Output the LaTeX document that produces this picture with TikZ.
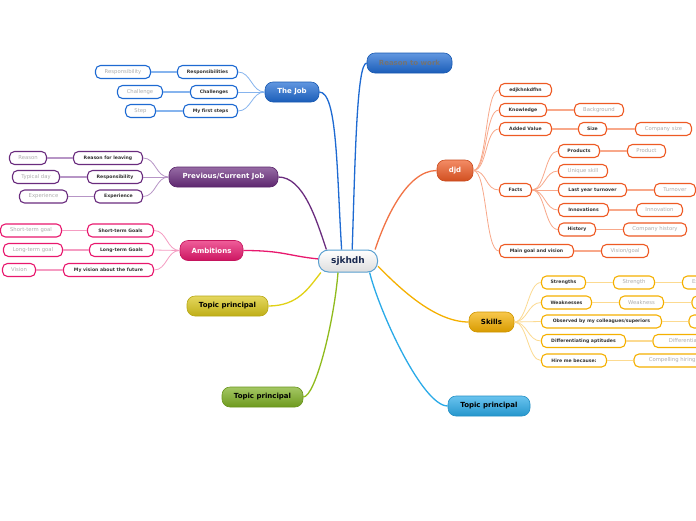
\documentclass[tikz,border=0pt]{standalone}
\usepackage{fontspec}
\setmainfont{DejaVu Sans}
\definecolor{jobB}{HTML}{1E6AD2}
\definecolor{jobL}{HTML}{86B4EE}
\definecolor{purB}{HTML}{6A2C7E}
\definecolor{purL}{HTML}{B795C6}
\definecolor{pinkB}{HTML}{E8186E}
\definecolor{pinkL}{HTML}{F59CC2}
\definecolor{orB}{HTML}{EE5A24}
\definecolor{orL}{HTML}{F8A88A}
\definecolor{skB}{HTML}{F5B000}
\definecolor{skL}{HTML}{FCDA90}
\definecolor{yelB}{HTML}{D9C61A}
\definecolor{grnB}{HTML}{7DAF22}
\definecolor{cyaB}{HTML}{2AAAE8}
\definecolor{cenB}{HTML}{5AA0D0}
\definecolor{navy}{HTML}{1A2A50}
\tikzset{
  mainbox/.style={rounded corners=8pt, minimum height=20pt, inner sep=0pt,
    font=\fontsize{7}{8}\selectfont\bfseries, text=white,
    top color=#1!70!white, bottom color=#1!88!black, draw=#1!85!black, line width=0.6pt},
  subbox/.style={draw=#1, line width=1.1pt, rounded corners=5pt, fill=white,
    minimum height=13pt, inner sep=0pt, font=\fontsize{4.6}{5.5}\selectfont\bfseries, text=black!80},
  leafbox/.style={subbox=#1, font=\fontsize{5.3}{6}\selectfont, text=black!32},
  mainedge/.style={line width=1.3pt, draw=#1},
  subedge/.style={line width=0.8pt, draw=#1},
  leafedge/.style={line width=1.6pt, draw=#1},
}
\begin{document}
\begin{tikzpicture}[x=1pt,y=-1pt]
\path[use as bounding box] (0,0) rectangle (696,520);
\clip (0,0) rectangle (696,520);
\fill[white] (0,0) rectangle (696,520);

% central
\node[draw=cenB, line width=1pt, rounded corners=10pt, top color=white, bottom color=black!13,
  minimum width=59pt, minimum height=22pt, inner sep=0pt,
  font=\fontsize{9}{10}\selectfont\bfseries, text=navy] (c) at (348,261) {sjkhdh};

% main topics
\node[mainbox=jobB, minimum width=54pt] (job) at (292,92) {The Job};
\node[mainbox=jobB, minimum width=85pt, text=black!55] (rw) at (409.5,63) {Reason to work};
\node[mainbox=orB, minimum width=36pt, minimum height=21pt] (djd) at (455,170.5) {djd};
\node[mainbox=purB, minimum width=109pt] (prev) at (223.5,177) {Previous/Current Job};
\node[mainbox=pinkB, minimum width=63pt] (amb) at (211.5,250.5) {Ambitions};
\node[mainbox=yelB, minimum width=81pt, text=black] (yel) at (227.5,306) {Topic principal};
\node[mainbox=grnB, minimum width=81pt, text=black] (grn) at (262.5,397) {Topic principal};
\node[mainbox=cyaB, minimum width=82pt, text=black] (cya) at (489,406) {Topic principal};
\node[mainbox=skB, minimum width=45pt, text=black] (sk) at (491.5,322) {Skills};

% central edges
\draw[mainedge=jobB] (job.east) .. controls +(18,0) and +(-5,-80) .. (c.119);
\draw[mainedge=jobB] (rw.west) .. controls +(-10,0) and +(3,-90) .. (c.70);
\draw[mainedge=orB!85] (djd.west) .. controls +(-30,0) and +(10,-30) .. (c.23);
\draw[mainedge=purB] (prev.east) .. controls +(25,0) and +(-10,-30) .. (c.152);
\draw[mainedge=pinkB] (amb.east) .. controls +(40,0) and +(-30,-3) .. (c.176);
\draw[mainedge=yelB!80!yellow] (yel.east) .. controls +(30,0) and +(-12,15) .. (c.203);
\draw[mainedge=grnB!85!yellow] (grn.east) .. controls +(12,0) and +(-4,50) .. (c.229);
\draw[mainedge=cyaB] (cya.west) .. controls +(-25,0) and +(10,40) .. (c.332);
\draw[mainedge=skB] (sk.west) .. controls +(-35,0) and +(20,20) .. (c.350);

% The Job
\node[subbox=jobB, minimum width=60pt] (j1) at (207.5,72) {Responsibilities};
\node[leafbox=jobB, minimum width=55pt] (j1l) at (123,72) {Responsibility};
\node[subbox=jobB, minimum width=47pt] (j2) at (214,92) {Challenges};
\node[leafbox=jobB, minimum width=45pt] (j2l) at (140,92) {Challenge};
\node[subbox=jobB, minimum width=54pt] (j3) at (210.5,111) {My first steps};
\node[leafbox=jobB, minimum width=30pt] (j3l) at (140.5,111) {Step};
\foreach \n in {j1,j2,j3} {
  \draw[subedge=jobL] (job.west) .. controls +(-13,0) and +(13,0) .. (\n.east);
  \draw[leafedge=jobL] (\n.west) -- (\n l.east);
}

% Previous/Current Job
\node[subbox=purB, minimum width=69pt] (p1) at (108,158) {Reason for leaving};
\node[leafbox=purB, minimum width=37pt] (p1l) at (28,158) {Reason};
\node[subbox=purB, minimum width=55pt] (p2) at (115,177) {Responsibility};
\node[leafbox=purB, minimum width=47pt] (p2l) at (36,177) {Typical day};
\node[subbox=purB, minimum width=48pt] (p3) at (118.5,196.5) {Experience};
\node[leafbox=purB, minimum width=48pt] (p3l) at (43.5,196.5) {Experience};
\foreach \n in {p1,p2,p3} {
  \draw[subedge=purL] (prev.west) .. controls +(-13,0) and +(13,0) .. (\n.east);
  \draw[leafedge=purL] (\n.west) -- (\n l.east);
}

% Ambitions
\node[subbox=pinkB, minimum width=66pt] (a1) at (120.5,230.5) {Short-term Goals};
\node[leafbox=pinkB, minimum width=61pt] (a1l) at (31,230.5) {Short-term goal};
\node[subbox=pinkB, minimum width=64pt] (a2) at (121.5,250) {Long-term Goals};
\node[leafbox=pinkB, minimum width=59pt] (a2l) at (33,250) {Long-term goal};
\node[subbox=pinkB, minimum width=90pt] (a3) at (108.5,270) {My vision about the future};
\node[leafbox=pinkB, minimum width=33pt] (a3l) at (19,270) {Vision};
\foreach \n in {a1,a2,a3} {
  \draw[subedge=pinkL] (amb.west) .. controls +(-13,0) and +(13,0) .. (\n.east);
  \draw[leafedge=pinkL] (\n.west) -- (\n l.east);
}

% djd
\node[subbox=orB, minimum width=52pt] (d1) at (525.5,90) {edjkhnkdfhn};
\node[subbox=orB, minimum width=47pt] (d2) at (523,110) {Knowledge};
\node[leafbox=orB, minimum width=49pt] (d2l) at (599,110) {Background};
\node[subbox=orB, minimum width=52pt] (d3) at (525.5,129) {Added Value};
\node[subbox=orB, minimum width=28pt] (d3s) at (592.5,129) {Size};
\node[leafbox=orB, minimum width=56pt] (d3l) at (663.5,129) {Company size};
\node[subbox=orB, minimum width=32pt] (d4) at (515.5,190) {Facts};
\node[subbox=orB, minimum width=74pt] (d5) at (536.5,251) {Main goal and vision};
\node[leafbox=orB, minimum width=47pt] (d5l) at (625,251) {Vision/goal};
\foreach \n in {d1,d2,d3,d4,d5}
  \draw[subedge=orL] (djd.east) .. controls +(14,0) and +(-14,0) .. (\n.west);
\draw[leafedge=orL] (d2.east) -- (d2l.west);
\draw[leafedge=orL] (d3.east) -- (d3s.west);
\draw[leafedge=orL] (d3s.east) -- (d3l.west);
\draw[leafedge=orL] (d5.east) -- (d5l.west);

% Facts
\node[subbox=orB, minimum width=41pt] (f1) at (579,151) {Products};
\node[leafbox=orB, minimum width=38pt] (f1l) at (646.5,151) {Product};
\node[leafbox=orB, minimum width=49pt] (f2) at (583,171) {Unique skill};
\node[subbox=orB, minimum width=68pt] (f3) at (592.5,190) {Last year turnover};
\node[leafbox=orB, minimum width=41pt] (f3l) at (675,190) {Turnover};
\node[subbox=orB, minimum width=50pt] (f4) at (583.5,210) {Innovations};
\node[leafbox=orB, minimum width=46pt] (f4l) at (659.5,210) {Innovation};
\node[subbox=orB, minimum width=37pt] (f5) at (577,229.5) {History};
\node[leafbox=orB, minimum width=63pt] (f5l) at (655,229.5) {Company history};
\foreach \n in {f1,f2,f3,f4,f5}
  \draw[subedge=orL] (d4.east) .. controls +(13,0) and +(-13,0) .. (\n.west);
\foreach \n in {f1,f3,f4,f5}
  \draw[leafedge=orL] (\n.east) -- (\n l.west);

% Skills
\node[subbox=skB, minimum width=44pt] (s1) at (563.5,282.5) {Strengths};
\node[leafbox=skB, minimum width=41pt] (s1l) at (634,282.5) {Strength};
\node[leafbox=skB, minimum width=42pt] (s1m) at (703.5,282.5) {Example};
\node[subbox=skB, minimum width=50pt] (s2) at (566.5,302.5) {Weaknesses};
\node[leafbox=skB, minimum width=44pt] (s2l) at (641.5,302.5) {Weakness};
\node[leafbox=skB, minimum width=42pt] (s2m) at (713,302.5) {Example};
\node[subbox=skB, minimum width=120pt] (s3) at (601.5,321.5) {Observed by my colleagues/superiors};
\node[leafbox=skB, minimum width=42pt] (s3l) at (710,321.5) {Example};
\node[subbox=skB, minimum width=84pt] (s4) at (583.5,341) {Differentiating aptitudes};
\node[leafbox=skB, minimum width=94pt] (s4l) at (700,341) {Differentiating aptitude};
\node[subbox=skB, minimum width=65pt] (s5) at (574,360.5) {Hire me because:};
\node[leafbox=skB, minimum width=96pt] (s5l) at (682,360.5) {Compelling hiring reason};
\foreach \n in {s1,s2,s3,s4,s5} {
  \draw[subedge=skL] (sk.east) .. controls +(13,0) and +(-13,0) .. (\n.west);
  \draw[leafedge=skL] (\n.east) -- (\n l.west);
}
\draw[leafedge=skL] (s1l.east) -- (s1m.west);
\draw[leafedge=skL] (s2l.east) -- (s2m.west);
\end{tikzpicture}
\end{document}
